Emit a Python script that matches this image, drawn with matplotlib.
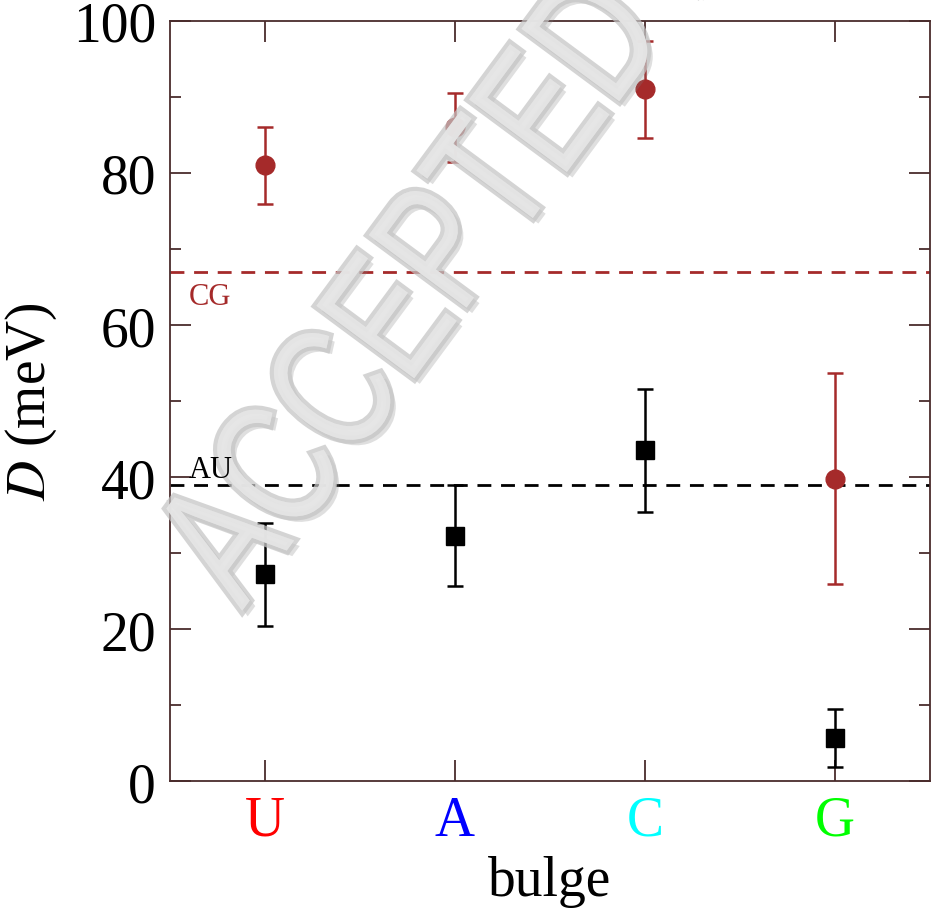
import numpy as np
import matplotlib.pyplot as plt
import matplotlib.patheffects as pe
from matplotlib.textpath import TextPath
from matplotlib.patches import PathPatch
from matplotlib.font_manager import FontProperties
from matplotlib.transforms import Affine2D, IdentityTransform

plt.rcParams['font.family'] = ['Liberation Serif', 'DejaVu Serif']
plt.rcParams['mathtext.fontset'] = 'stix'

# data
bulges = ['U', 'A', 'C', 'G']
bulge_colors = ['#ff0000', '#0000ff', '#00ffff', '#00ff00']

d_red = [81.0, 86.0, 91.0, 39.8]
err_red = [5.1, 4.5, 6.4, 13.9]

d_black = [27.2, 32.3, 43.5, 5.7]
err_black = [6.8, 6.7, 8.1, 3.8]

cg_level = 67.0
au_level = 39.0

yticks = [0, 20, 40, 60, 80, 100]

red = '#a52a2a'
spine_col = '#4a2c2c'

fig = plt.figure(figsize=(9.34, 9.12), dpi=100)
ax = fig.add_axes([0.182, 0.1425, 0.8137, 0.8334])

x = np.arange(1, len(bulges) + 1)

ax.axhline(cg_level, color=red, lw=2.0, ls=(0, (5, 3.5)), zorder=1)
ax.axhline(au_level, color='black', lw=2.0, ls=(0, (5, 3.5)), zorder=1)

ax.errorbar(x, d_red, yerr=err_red, fmt='o', color=red, ms=13.5,
            lw=1.8, capsize=6, capthick=1.8, zorder=3)
ax.errorbar(x, d_black, yerr=err_black, fmt='s', color='black', ms=13,
            lw=1.8, capsize=6, capthick=1.8, zorder=3)

ax.set_xlim(0.5, 4.5)
ax.set_ylim(0, 100)
ax.set_xticks(x)
ax.set_xticklabels(bulges)
for lab, c in zip(ax.get_xticklabels(), bulge_colors):
    lab.set_color(c)
ax.set_yticks(yticks)
ax.set_yticks(np.arange(10, 100, 20), minor=True)

ax.tick_params(axis='both', which='major', direction='in', length=15, width=1.3,
               labelsize=40, top=True, right=True, color=spine_col, pad=10)
ax.tick_params(axis='y', which='minor', direction='in', length=8, width=1.3,
               right=True, color=spine_col)
for s in ax.spines.values():
    s.set_color(spine_col)
    s.set_linewidth(1.3)

ax.set_xlabel('bulge', fontsize=40, labelpad=6)
ax.set_ylabel(r'$D$ (meV)', fontsize=40, labelpad=10)

# watermark, drawn as a path in pixel space (narrow letters, tall caps)
tp = TextPath((0, 0), 'ACCEPTED MANUSCRIPT', size=1,
              prop=FontProperties(family='Liberation Sans'))
tr = Affine2D().scale(132, 177).rotate_deg(53.5).translate(242, 912 - 612)
wm = PathPatch(tr.transform_path(tp), transform=IdentityTransform(),
               facecolor='#e6e6e6', edgecolor='none', alpha=0.72, zorder=10)
wm.set_path_effects([
    pe.SimplePatchShadow(offset=(4, -4), shadow_rgbFace='#808080', alpha=0.25),
    pe.withStroke(linewidth=6, foreground='#c4c4c4'),
    pe.Normal()])
fig.add_artist(wm)

# line labels on top of the watermark
fig.text(0.6, cg_level - 1.3, 'CG', color=red, fontsize=22, va='top', ha='left',
         transform=ax.transData, zorder=11)
fig.text(0.6, au_level + 0.1, 'AU', color='black', fontsize=22, va='bottom', ha='left',
         transform=ax.transData, zorder=11)

fig.savefig('out.png', dpi=100)
